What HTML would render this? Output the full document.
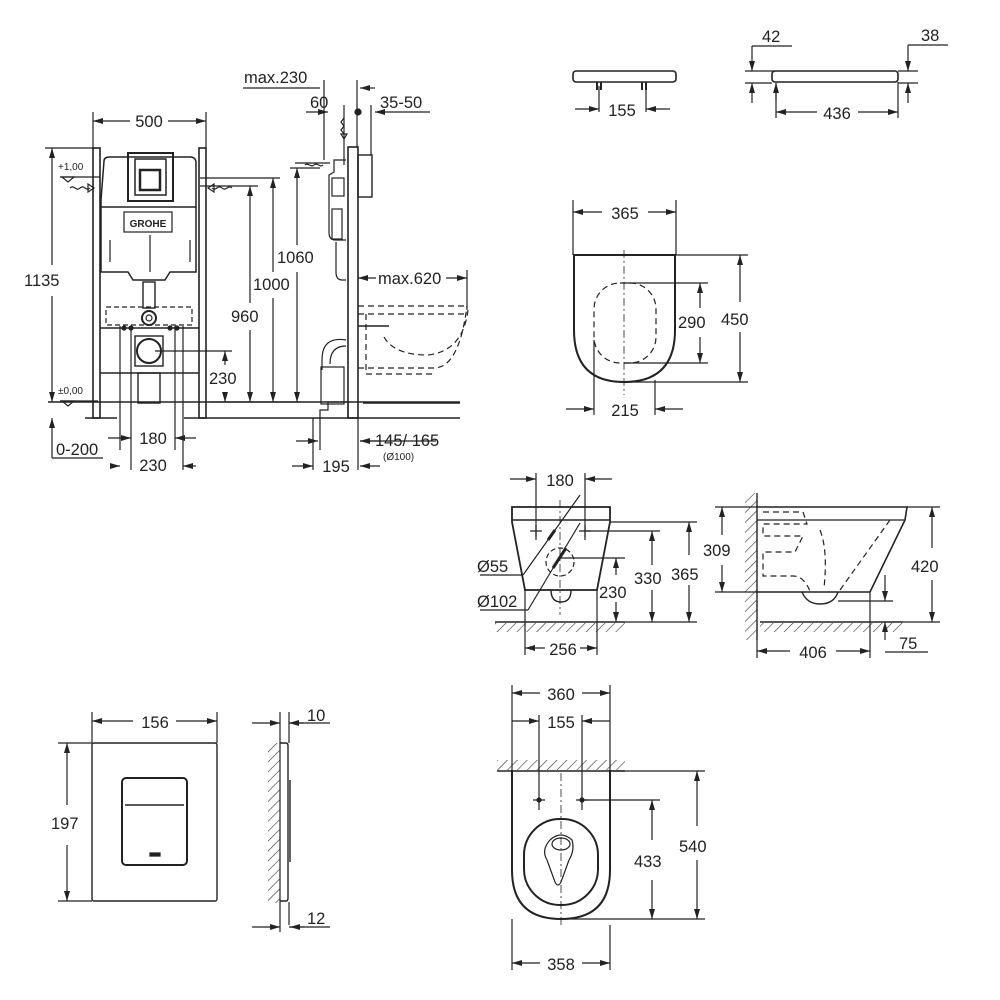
<!DOCTYPE html>
<html><head><meta charset="utf-8"><style>
html,body{margin:0;padding:0;background:#fff}
svg{display:block}
text{font-family:"Liberation Sans",sans-serif;fill:#222}
</style></head><body>
<svg width="1000" height="1000" viewBox="0 0 1000 1000" xmlns="http://www.w3.org/2000/svg">
<defs>
<marker id="a" viewBox="0 0 10 6" refX="10" refY="3" markerWidth="10" markerHeight="6" orient="auto-start-reverse" markerUnits="userSpaceOnUse"><path d="M0,0L10,3L0,6z" fill="#222"/></marker>
<pattern id="h" width="7" height="7" patternUnits="userSpaceOnUse" patternTransform="rotate(45)"><line x1="0" y1="0" x2="0" y2="7" stroke="#333" stroke-width="1.2"/></pattern>
</defs>
<g stroke="#222" stroke-width="1.2" fill="none">
<line x1="93" y1="112" x2="93" y2="148"/><line x1="206" y1="112" x2="206" y2="148"/>
<line x1="93" y1="121" x2="130" y2="121" marker-start="url(#a)"/><line x1="168" y1="121" x2="206" y2="121" marker-end="url(#a)"/>
<rect x="93" y="148" width="7" height="270" stroke-width="1.6"/><rect x="199" y="148" width="7" height="270" stroke-width="1.6"/>
<path d="M104 161 Q104 157 110 157 L190 157 Q196 157 196 163 L196 272 L170 272 L165 280 L133 280 L128 272 L101 272 L101 200 Z" stroke-width="1.5"/>
<rect x="128" y="153" width="45" height="48" stroke-width="2"/><rect x="135" y="159" width="31" height="36" stroke-width="1.5"/>
<path d="M140 170h20v20h-20z" stroke-width="2.5"/>
<line x1="101" y1="207" x2="196" y2="207" stroke-width="1.5"/>
<rect x="124" y="212" width="48" height="20"/>
<line x1="110" y1="240" x2="110" y2="262"/><line x1="190" y1="240" x2="190" y2="262"/><line x1="150" y1="235" x2="150" y2="272"/>
<rect x="143" y="282" width="12" height="26" stroke-width="1.4"/>
<circle cx="149" cy="318" r="7" stroke-width="2"/><circle cx="149" cy="318" r="3"/>
<rect x="106" y="307" width="86" height="18" stroke-dasharray="5,3"/>
<line x1="100" y1="328" x2="199" y2="328" stroke-width="1.5"/><line x1="100" y1="373" x2="199" y2="373" stroke-width="1.5"/>
<rect x="135" y="336" width="28" height="30" stroke-width="1.4"/><circle cx="149" cy="351" r="12" stroke-width="2"/>
<rect x="138" y="373" width="22" height="30" stroke-width="1.4"/>
<line x1="120" y1="326" x2="120" y2="450"/><line x1="131" y1="326" x2="131" y2="470"/><line x1="175" y1="326" x2="175" y2="450"/><line x1="183" y1="326" x2="183" y2="470"/>
<circle cx="124" cy="328" r="2" fill="#222"/><circle cx="131" cy="328" r="2" fill="#222"/><circle cx="170" cy="328" r="2" fill="#222"/><circle cx="177" cy="328" r="2" fill="#222"/>
<line x1="48" y1="402" x2="460" y2="402" stroke-width="1.4"/>
<line x1="85" y1="418" x2="117" y2="418" stroke-width="1.4"/><line x1="184" y1="418" x2="460" y2="418" stroke-width="1.4"/>
<line x1="45" y1="148" x2="95" y2="148"/><line x1="52" y1="148" x2="52" y2="265" marker-start="url(#a)"/><line x1="52" y1="296" x2="52" y2="402" marker-end="url(#a)"/>
<line x1="60" y1="177" x2="100" y2="177"/><path d="M62 177h12l-6 5z"/>
<line x1="60" y1="401" x2="98" y2="401"/><path d="M62 401h12l-6 5z"/>
<path d="M70 188c4-4 6 4 10 0s6 4 10 0" /><path d="M88 184l6 4-6 4z"/><path d="M232 188c-4-4-6 4-10 0s-6 4-10 0"/><path d="M214 184l-6 4 6 4z"/>
<line x1="52" y1="418" x2="52" y2="458" marker-start="url(#a)"/><line x1="52" y1="458" x2="103" y2="458"/>
<line x1="108" y1="438" x2="131" y2="438" marker-end="url(#a)"/><line x1="196" y1="438" x2="175" y2="438" marker-end="url(#a)"/>
<line x1="112" y1="466" x2="120" y2="466" marker-end="url(#a)"/><line x1="196" y1="466" x2="183" y2="466" marker-end="url(#a)"/>
<line x1="155" y1="351" x2="232" y2="351"/><line x1="225" y1="351" x2="225" y2="365" marker-start="url(#a)"/><line x1="225" y1="392" x2="225" y2="402" marker-end="url(#a)"/>
<line x1="210" y1="402" x2="300" y2="402"/>
<line x1="200" y1="186" x2="258" y2="186"/><line x1="250" y1="186" x2="250" y2="303" marker-start="url(#a)"/><line x1="250" y1="330" x2="250" y2="402" marker-end="url(#a)"/>
<line x1="200" y1="178" x2="280" y2="178"/><line x1="273" y1="178" x2="273" y2="272" marker-start="url(#a)"/><line x1="273" y1="298" x2="273" y2="402" marker-end="url(#a)"/>
<line x1="290" y1="168" x2="320" y2="168"/><line x1="297" y1="168" x2="297" y2="245" marker-start="url(#a)"/><line x1="297" y1="272" x2="297" y2="402" marker-end="url(#a)"/>
<rect x="348" y="147" width="10" height="271" stroke-width="1.6"/>
<rect x="358" y="155" width="14" height="42" stroke-width="1.4"/>
<path d="M346 160 L334 160 L334 172 L329 175 L329 232 Q329 240 335 240 L346 240"/><rect x="332" y="178" width="12" height="18"/>
<rect x="332" y="209" width="10" height="30"/>
<path d="M336 242v30q0 8 6 8h4"/>
<path d="M346 340 Q322 336 322 360 L322 370 M346 346 Q330 346 330 364"/><rect x="321" y="367" width="23" height="37"/>
<path d="M320 418v-8h8v-8h20v16"/>
<line x1="363" y1="403" x2="460" y2="403" stroke-width="1.4"/>
<g stroke-dasharray="6,4">
<line x1="358" y1="306" x2="467" y2="306"/><line x1="358" y1="314" x2="467" y2="314"/>
<path d="M366 314v60h70"/><path d="M358 368h76q25 0 33-62"/><path d="M384 337 q10 18 44 18 q35-4 40-45"/>
</g>
<line x1="358" y1="326" x2="389" y2="326" stroke-width="1.4"/>
<line x1="358" y1="278" x2="376" y2="278" marker-start="url(#a)"/><line x1="446" y1="278" x2="467" y2="278" marker-end="url(#a)"/><line x1="467" y1="270" x2="467" y2="310"/>
<line x1="243" y1="88" x2="320" y2="88"/><line x1="324" y1="80" x2="324" y2="160"/>
<line x1="357" y1="80" x2="357" y2="147"/><line x1="360" y1="88" x2="375" y2="88" marker-start="url(#a)"/>
<line x1="306" y1="112" x2="328" y2="112" marker-end="url(#a)"/><line x1="344" y1="105" x2="344" y2="165"/>
<circle cx="358" cy="112" r="3" fill="#222"/>
<line x1="371" y1="105" x2="371" y2="155"/><line x1="375" y1="112" x2="430" y2="112" marker-start="url(#a)"/>
<path d="M344 118l-3 4 3 4-3 4 3 4"/><path d="M341 134h6l-3 5z"/>
<line x1="295" y1="163" x2="330" y2="163"/><path d="M305 165c3-3 6 3 9 0s6 3 9 0"/>
<line x1="313" y1="418" x2="313" y2="470"/><line x1="358" y1="418" x2="358" y2="470"/><line x1="320" y1="418" x2="320" y2="450"/>
<line x1="296" y1="441" x2="318" y2="441" marker-end="url(#a)"/><line x1="380" y1="441" x2="360" y2="441" marker-end="url(#a)"/><line x1="360" y1="441" x2="436" y2="441"/>
<line x1="292" y1="466" x2="313" y2="466" marker-end="url(#a)"/><line x1="380" y1="466" x2="360" y2="466" marker-end="url(#a)"/>
<rect x="573" y="71" width="103" height="11" rx="3" stroke-width="1.6"/>
<path d="M597 82v8M601 82v8M642 82v8M646 82v8" stroke-width="2"/><line x1="599" y1="86" x2="599" y2="112"/><line x1="646" y1="86" x2="646" y2="112"/>
<line x1="575" y1="109" x2="599" y2="109" marker-end="url(#a)"/><line x1="670" y1="109" x2="646" y2="109" marker-end="url(#a)"/>
<rect x="772" y="71" width="126" height="11" rx="3" stroke-width="1.6"/>
<line x1="745" y1="71" x2="775" y2="71"/><line x1="745" y1="83" x2="772" y2="83"/>
<line x1="752" y1="46" x2="792" y2="46"/><line x1="752" y1="46" x2="752" y2="71" marker-end="url(#a)"/><line x1="752" y1="103" x2="752" y2="83" marker-end="url(#a)"/>
<line x1="776" y1="83" x2="776" y2="118"/><line x1="776" y1="100" x2="776" y2="83" marker-end="url(#a)"/>
<line x1="898" y1="82" x2="898" y2="118"/><line x1="776" y1="112" x2="817" y2="112" marker-start="url(#a)"/><line x1="858" y1="112" x2="898" y2="112" marker-end="url(#a)"/>
<line x1="898" y1="71" x2="918" y2="71"/><line x1="898" y1="83" x2="918" y2="83"/>
<line x1="908" y1="45" x2="948" y2="45"/><line x1="908" y1="45" x2="908" y2="71" marker-end="url(#a)"/><line x1="908" y1="103" x2="908" y2="83" marker-end="url(#a)"/>
<path d="M574 255 H675 V330 Q675 382 624 382 Q574 382 574 330 Z" stroke-width="2"/>
<line x1="624" y1="250" x2="624" y2="395" stroke-dasharray="8,3,2,3" stroke-width="0.8"/>
<rect x="594" y="283" width="62" height="80" rx="26" stroke-dasharray="6,4"/>
<line x1="573" y1="200" x2="573" y2="255"/><line x1="676" y1="200" x2="676" y2="255"/>
<line x1="573" y1="212" x2="602" y2="212" marker-start="url(#a)"/><line x1="648" y1="212" x2="676" y2="212" marker-end="url(#a)"/>
<line x1="676" y1="255" x2="748" y2="255"/><line x1="624" y1="382" x2="748" y2="382"/>
<line x1="740" y1="255" x2="740" y2="302" marker-start="url(#a)"/><line x1="740" y1="332" x2="740" y2="382" marker-end="url(#a)"/>
<line x1="624" y1="283" x2="708" y2="283"/><line x1="624" y1="363" x2="708" y2="363"/>
<line x1="700" y1="283" x2="700" y2="308" marker-start="url(#a)"/><line x1="700" y1="337" x2="700" y2="363" marker-end="url(#a)"/>
<line x1="594" y1="340" x2="594" y2="415"/><line x1="655" y1="380" x2="655" y2="415"/>
<line x1="566" y1="409" x2="594" y2="409" marker-end="url(#a)"/><line x1="683" y1="409" x2="655" y2="409" marker-end="url(#a)"/>
<path d="M512 507 H610 V522 L597 590 H525 L512 522 Z" stroke-width="1.8"/><line x1="512" y1="520" x2="610" y2="520" stroke-width="1.4"/>
<path d="M551 590 q0 12 10 12 q10 0 10-12" stroke-width="1.4"/>
<line x1="560" y1="500" x2="560" y2="615" stroke-dasharray="8,3,2,3" stroke-width="0.8"/>
<line x1="536" y1="473" x2="536" y2="540"/><line x1="585" y1="473" x2="585" y2="540"/>
<line x1="510" y1="479" x2="536" y2="479" marker-end="url(#a)"/><line x1="612" y1="479" x2="585" y2="479" marker-end="url(#a)"/>
<path d="M530 531h12M536 525v12M579 531h12M585 525v12"/>
<line x1="480" y1="575" x2="523" y2="575"/><line x1="523" y1="575" x2="580" y2="495"/><line x1="548" y1="540" x2="555" y2="530" stroke-width="3"/>
<line x1="480" y1="610" x2="528" y2="610"/><line x1="528" y1="610" x2="580" y2="523"/><line x1="553" y1="568" x2="566" y2="548" stroke-width="3"/>
<circle cx="560" cy="562" r="14" stroke-dasharray="5,3"/>
<line x1="495" y1="622" x2="625" y2="622" stroke-width="1.4"/><rect x="495" y="623" width="130" height="9" fill="url(#h)" stroke="none"/>
<line x1="525" y1="590" x2="525" y2="655"/><line x1="597" y1="590" x2="597" y2="655"/>
<line x1="525" y1="648" x2="545" y2="648" marker-start="url(#a)"/><line x1="580" y1="648" x2="597" y2="648" marker-end="url(#a)"/>
<line x1="610" y1="522" x2="697" y2="522"/><line x1="585" y1="531" x2="660" y2="531"/><line x1="560" y1="558" x2="625" y2="558"/>
<line x1="616" y1="558" x2="616" y2="575" marker-start="url(#a)"/><line x1="616" y1="602" x2="616" y2="622" marker-end="url(#a)"/>
<line x1="652" y1="531" x2="652" y2="565" marker-start="url(#a)"/><line x1="652" y1="590" x2="652" y2="622" marker-end="url(#a)"/>
<line x1="689" y1="522" x2="689" y2="555" marker-start="url(#a)"/><line x1="689" y1="585" x2="689" y2="622" marker-end="url(#a)"/>
<line x1="625" y1="622" x2="697" y2="622"/>
<line x1="757" y1="493" x2="757" y2="640" stroke-width="1.4"/><rect x="745" y="493" width="12" height="147" fill="url(#h)" stroke="none"/>
<path d="M757 507 H907 L905 520 L870 592 H757" stroke-width="1.6"/><line x1="757" y1="520" x2="905" y2="520" stroke-width="1.2"/>
<path d="M802 592 q5 12 18 12 q14 0 18-12" stroke-width="1.4"/>
<path d="M763 512h40l4 12h-44v12h40l-8 16h-32v24h30q12 0 18 18M820 530q8 20 4 58M890 520l-50 70" stroke-dasharray="6,4"/>
<line x1="760" y1="622" x2="903" y2="622" stroke-width="1.4"/><rect x="760" y="623" width="143" height="9" fill="url(#h)" stroke="none"/>
<line x1="715" y1="507" x2="757" y2="507"/><line x1="715" y1="592" x2="757" y2="592"/>
<line x1="722" y1="507" x2="722" y2="535" marker-start="url(#a)"/><line x1="722" y1="565" x2="722" y2="592" marker-end="url(#a)"/>
<line x1="907" y1="507" x2="940" y2="507"/><line x1="903" y1="622" x2="940" y2="622"/>
<line x1="932" y1="507" x2="932" y2="548" marker-start="url(#a)"/><line x1="932" y1="580" x2="932" y2="622" marker-end="url(#a)"/>
<line x1="838" y1="601" x2="893" y2="601"/><line x1="885" y1="575" x2="885" y2="601" marker-end="url(#a)"/><line x1="885" y1="640" x2="885" y2="622" marker-end="url(#a)"/><line x1="885" y1="652" x2="928" y2="652"/>
<line x1="757" y1="640" x2="757" y2="658"/><line x1="870" y1="592" x2="870" y2="658"/>
<line x1="757" y1="651" x2="790" y2="651" marker-start="url(#a)"/><line x1="836" y1="651" x2="870" y2="651" marker-end="url(#a)"/>
<path d="M512 770 V870 Q512 919 561 919 Q610 919 610 870 V770" stroke-width="2"/>
<rect x="524" y="819" width="74" height="86" rx="36" stroke-width="2"/>
<path d="M550 840 q11-10 22 0 q3 10-3 20 l-8 22 q-3 6-6 0 l-8-22 q-6-10 3-20z"/><ellipse cx="561" cy="844" rx="9" ry="6"/>
<line x1="561" y1="773" x2="561" y2="926" stroke-dasharray="8,3,2,3" stroke-width="0.8"/>
<line x1="497" y1="771" x2="625" y2="771" stroke-width="1.4"/><rect x="497" y="760" width="128" height="10" fill="url(#h)" stroke="none"/>
<line x1="512" y1="685" x2="512" y2="770"/><line x1="610" y1="685" x2="610" y2="770"/>
<line x1="512" y1="693" x2="540" y2="693" marker-start="url(#a)"/><line x1="582" y1="693" x2="610" y2="693" marker-end="url(#a)"/>
<line x1="539" y1="715" x2="539" y2="810"/><line x1="582" y1="715" x2="582" y2="810"/>
<line x1="512" y1="721" x2="539" y2="721" marker-end="url(#a)"/><line x1="610" y1="721" x2="582" y2="721" marker-end="url(#a)"/>
<path d="M533 800h12M576 800h12"/><circle cx="539" cy="800" r="2" fill="#222"/><circle cx="582" cy="800" r="2" fill="#222"/>
<line x1="582" y1="800" x2="660" y2="800"/><line x1="610" y1="771" x2="705" y2="771"/><line x1="561" y1="919" x2="705" y2="919"/>
<line x1="652" y1="800" x2="652" y2="840" marker-start="url(#a)"/><line x1="652" y1="880" x2="652" y2="919" marker-end="url(#a)"/>
<line x1="697" y1="771" x2="697" y2="826" marker-start="url(#a)"/><line x1="697" y1="860" x2="697" y2="919" marker-end="url(#a)"/>
<line x1="512" y1="919" x2="512" y2="970"/><line x1="610" y1="925" x2="610" y2="970"/>
<line x1="512" y1="963" x2="540" y2="963" marker-start="url(#a)"/><line x1="582" y1="963" x2="610" y2="963" marker-end="url(#a)"/>
<rect x="92" y="743" width="125" height="158" rx="2" stroke-width="1.4"/>
<rect x="122" y="778" width="65" height="87" rx="4" stroke-width="2"/><line x1="125" y1="805" x2="184" y2="805" stroke-width="1.4"/>
<path d="M150 853h10v3h-10z" fill="#222"/>
<line x1="92" y1="712" x2="92" y2="743"/><line x1="217" y1="712" x2="217" y2="743"/>
<line x1="92" y1="721" x2="133" y2="721" marker-start="url(#a)"/><line x1="176" y1="721" x2="217" y2="721" marker-end="url(#a)"/>
<line x1="58" y1="743" x2="92" y2="743"/><line x1="58" y1="901" x2="92" y2="901"/>
<line x1="67" y1="743" x2="67" y2="805" marker-start="url(#a)"/><line x1="67" y1="845" x2="67" y2="901" marker-end="url(#a)"/>
<line x1="280" y1="712" x2="280" y2="932"/><rect x="268" y="743" width="12" height="160" fill="url(#h)" stroke="none"/>
<path d="M280 743h6q2 0 2 3v152q0 3-2 3h-6" stroke-width="1.4"/><line x1="290" y1="780" x2="290" y2="862" stroke-width="1.4"/>
<line x1="289" y1="712" x2="289" y2="743"/><line x1="289" y1="925" x2="289" y2="902"/>
<line x1="252" y1="723" x2="280" y2="723" marker-end="url(#a)"/><line x1="330" y1="723" x2="289" y2="723"/><line x1="304" y1="723" x2="289" y2="723" marker-end="url(#a)"/>
<line x1="252" y1="927" x2="280" y2="927" marker-end="url(#a)"/><line x1="330" y1="927" x2="289" y2="927"/><line x1="304" y1="927" x2="290" y2="927" marker-end="url(#a)"/>
</g>
<g font-size="16.5">
<text x="149" y="127" text-anchor="middle">500</text>
<text x="24" y="286">1135</text>
<text x="58" y="170" font-size="10">+1,00</text><text x="58" y="394" font-size="10">±0,00</text>
<text x="56" y="455">0-200</text>
<text x="153" y="444" text-anchor="middle">180</text><text x="153" y="471" text-anchor="middle">230</text>
<text x="209" y="384">230</text>
<text x="231" y="322">960</text><text x="253" y="290">1000</text><text x="277" y="263">1060</text>
<text x="244" y="83">max.230</text><text x="310" y="108">60</text><text x="380" y="108">35-50</text>
<text x="378" y="284">max.620</text>
<text x="375" y="446">145/ 165</text><text x="383" y="460" font-size="10">(Ø100)</text>
<text x="336" y="472" text-anchor="middle">195</text>
<text x="622" y="116" text-anchor="middle">155</text>
<text x="762" y="42">42</text><text x="921" y="41">38</text>
<text x="837" y="119" text-anchor="middle">436</text>
<text x="625" y="219" text-anchor="middle">365</text>
<text x="678" y="328">290</text><text x="721" y="325">450</text>
<text x="625" y="416" text-anchor="middle">215</text>
<text x="560" y="486" text-anchor="middle">180</text>
<text x="477" y="572">Ø55</text><text x="477" y="607">Ø102</text>
<text x="599" y="598">230</text><text x="634" y="584">330</text><text x="671" y="580">365</text>
<text x="563" y="655" text-anchor="middle">256</text>
<text x="703" y="556">309</text><text x="911" y="572">420</text>
<text x="813" y="658" text-anchor="middle">406</text><text x="899" y="649">75</text>
<text x="561" y="700" text-anchor="middle">360</text><text x="561" y="728" text-anchor="middle">155</text>
<text x="634" y="867">433</text><text x="679" y="852">540</text>
<text x="561" y="970" text-anchor="middle">358</text>
<text x="155" y="728" text-anchor="middle">156</text>
<text x="51" y="829">197</text>
<text x="307" y="721">10</text><text x="307" y="924">12</text>
</g>
<text x="148" y="227" font-size="10" text-anchor="middle" font-weight="bold">GROHE</text>
</svg>
</body></html>
